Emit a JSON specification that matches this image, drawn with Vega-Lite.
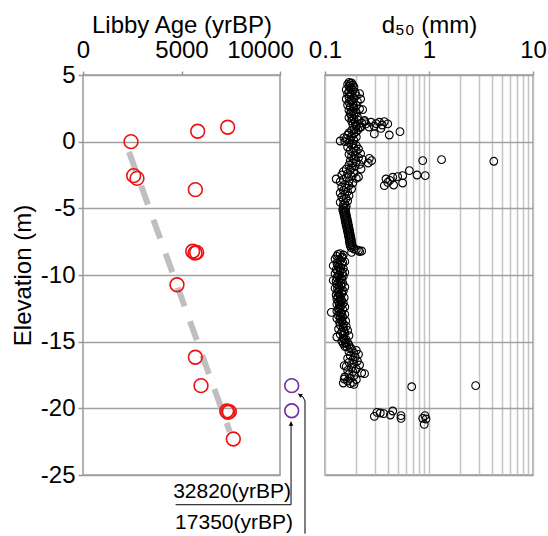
{
"$schema": "https://vega.github.io/schema/vega-lite/v6.json",
"background": "white",
"padding": {"left": 10, "top": 12, "right": 0, "bottom": 0},
"spacing": 45,
"bounds": "flush",
"config": {
  "font": "Liberation Sans",
  "view": {"stroke": "#999999", "strokeWidth": 1.5},
  "axis": {"labelFont": "Liberation Sans", "titleFont": "Liberation Sans", "labelFontSize": 24, "titleFontSize": 24, "titleFontWeight": "normal", "labelColor": "#000000", "titleColor": "#000000", "domain": false, "gridColor": "#a0a0a0", "gridWidth": 1.5, "tickColor": "#999999", "tickWidth": 1.5, "labelFlush": false, "labelOverlap": false}
},
"datasets": {
  "reg": [{"age": 2335, "elev": -0.77}, {"age": 7450, "elev": -21.75}],
  "red": [
    {"age": 2437, "elev": 0.0}, {"age": 5821, "elev": 0.78}, {"age": 7343, "elev": 1.08},
    {"age": 2572, "elev": -2.55}, {"age": 2741, "elev": -2.75}, {"age": 5703, "elev": -3.6},
    {"age": 5567, "elev": -8.22}, {"age": 5685, "elev": -8.35}, {"age": 5770, "elev": -8.3},
    {"age": 4772, "elev": -10.73}, {"age": 5703, "elev": -16.17}, {"age": 5990, "elev": -18.3},
    {"age": 7293, "elev": -20.2}, {"age": 7428, "elev": -20.25}, {"age": 7350, "elev": -20.3},
    {"age": 7630, "elev": -22.3}
  ],
  "purple": [{"age": 10594, "elev": -18.3}, {"age": 10594, "elev": -20.18}],
  "arrows": [
    {"id": 1, "o": 1, "age": 4700, "elev": -27.23}, {"id": 1, "o": 2, "age": 10560, "elev": -27.23}, {"id": 1, "o": 3, "age": 10560, "elev": -21.0},
    {"id": 2, "o": 1, "age": 11269, "elev": -29.4}, {"id": 2, "o": 2, "age": 11269, "elev": -19.45}, {"id": 2, "o": 3, "age": 11168, "elev": -19.15}, {"id": 2, "o": 4, "age": 10939, "elev": -18.92}
  ],
  "heads": [{"age": 10560, "elev": -21.15, "ang": 0}, {"age": 11010, "elev": -19.0, "ang": 304}],
  "notes": [{"age": 10560, "elev": -26.25, "t": "32820(yrBP)"}, {"age": 10660, "elev": -28.6, "t": "17350(yrBP)"}],
  "d50": [
    {"d":0.17,"e":4.45},{"d":0.18,"e":4.4},{"d":0.165,"e":4.3},{"d":0.185,"e":4.25},{"d":0.17,"e":4.15},{"d":0.19,"e":4.1},{"d":0.175,"e":4.0},{"d":0.16,"e":3.9},{"d":0.185,"e":3.85},{"d":0.17,"e":3.75},{"d":0.195,"e":3.7},{"d":0.165,"e":3.6},{"d":0.215,"e":3.6},{"d":0.18,"e":3.5},{"d":0.2,"e":3.45},{"d":0.17,"e":3.35},{"d":0.19,"e":3.25},{"d":0.16,"e":3.2},{"d":0.22,"e":3.2},{"d":0.18,"e":3.1},{"d":0.205,"e":3.0},{"d":0.17,"e":2.95},{"d":0.185,"e":2.85},{"d":0.165,"e":2.75},{"d":0.2,"e":2.7},{"d":0.175,"e":2.6},{"d":0.19,"e":2.5},{"d":0.215,"e":2.45},{"d":0.23,"e":2.4},{"d":0.17,"e":2.35},{"d":0.185,"e":2.3},{"d":0.2,"e":2.2},{"d":0.175,"e":2.1},{"d":0.19,"e":2.05},{"d":0.18,"e":1.95},{"d":0.205,"e":1.85},{"d":0.17,"e":1.8},{"d":0.19,"e":1.7},{"d":0.21,"e":1.6},{"d":0.24,"e":1.6},{"d":0.18,"e":1.55},{"d":0.195,"e":1.45},{"d":0.225,"e":1.4},{"d":0.185,"e":1.3},{"d":0.2,"e":1.25},
    {"d":0.175,"e":4.35},{"d":0.18,"e":4.05},{"d":0.175,"e":3.55},{"d":0.18,"e":3.05},{"d":0.19,"e":2.65},{"d":0.178,"e":2.25},{"d":0.182,"e":1.75},
    {"d":0.2,"e":1.15},{"d":0.215,"e":1.05},{"d":0.19,"e":0.95},{"d":0.18,"e":0.85},{"d":0.2,"e":0.75},{"d":0.17,"e":0.65},{"d":0.19,"e":0.6},{"d":0.165,"e":0.5},{"d":0.18,"e":0.4},{"d":0.2,"e":0.35},{"d":0.152,"e":0.3},{"d":0.16,"e":0.25},{"d":0.175,"e":0.15},{"d":0.19,"e":0.1},{"d":0.155,"e":0.0},{"d":0.14,"e":0.05},{"d":0.17,"e":-0.05},{"d":0.185,"e":-0.15},
    {"d":0.18,"e":-0.25},{"d":0.2,"e":-0.3},{"d":0.165,"e":-0.4},{"d":0.19,"e":-0.5},{"d":0.21,"e":-0.55},{"d":0.175,"e":-0.65},{"d":0.2,"e":-0.7},{"d":0.185,"e":-0.8},{"d":0.22,"e":-0.9},{"d":0.17,"e":-0.95},{"d":0.195,"e":-1.05},{"d":0.18,"e":-1.1},{"d":0.21,"e":-1.2},{"d":0.19,"e":-1.3},{"d":0.23,"e":-1.35},{"d":0.175,"e":-1.45},{"d":0.2,"e":-1.5},{"d":0.185,"e":-1.6},{"d":0.215,"e":-1.7},{"d":0.17,"e":-1.75},{"d":0.195,"e":-1.85},{"d":0.18,"e":-1.95},
    {"d":0.16,"e":-2.05},{"d":0.175,"e":-2.15},{"d":0.15,"e":-2.25},{"d":0.19,"e":-2.35},{"d":0.165,"e":-2.4},{"d":0.145,"e":-2.5},{"d":0.18,"e":-2.6},{"d":0.21,"e":-2.65},{"d":0.16,"e":-2.7},{"d":0.2,"e":-2.75},{"d":0.15,"e":-2.85},{"d":0.128,"e":-2.8},{"d":0.17,"e":-2.95},{"d":0.14,"e":-3.0},{"d":0.185,"e":-3.1},{"d":0.155,"e":-3.2},{"d":0.17,"e":-3.3},{"d":0.145,"e":-3.4},{"d":0.16,"e":-3.5},{"d":0.18,"e":-3.55},
    {"d":0.15,"e":-3.65},{"d":0.165,"e":-3.75},{"d":0.14,"e":-3.85},{"d":0.155,"e":-3.95},{"d":0.17,"e":-4.05},{"d":0.145,"e":-4.15},{"d":0.16,"e":-4.25},{"d":0.15,"e":-4.35},{"d":0.165,"e":-4.45},{"d":0.14,"e":-4.55},{"d":0.155,"e":-4.65},{"d":0.15,"e":-4.75},{"d":0.16,"e":-4.85},
    {"d":0.15,"e":-4.95},{"d":0.158,"e":-5.0},{"d":0.148,"e":-5.1},{"d":0.156,"e":-5.15},{"d":0.15,"e":-5.25},{"d":0.158,"e":-5.3},{"d":0.152,"e":-5.4},{"d":0.16,"e":-5.45},{"d":0.153,"e":-5.55},{"d":0.161,"e":-5.6},{"d":0.155,"e":-5.7},{"d":0.163,"e":-5.75},{"d":0.156,"e":-5.85},{"d":0.164,"e":-5.9},{"d":0.157,"e":-6.0},{"d":0.166,"e":-6.05},{"d":0.159,"e":-6.15},{"d":0.167,"e":-6.2},{"d":0.16,"e":-6.3},{"d":0.169,"e":-6.35},{"d":0.162,"e":-6.45},{"d":0.17,"e":-6.5},{"d":0.164,"e":-6.6},{"d":0.172,"e":-6.65},{"d":0.165,"e":-6.75},{"d":0.173,"e":-6.8},{"d":0.167,"e":-6.9},{"d":0.175,"e":-6.95},{"d":0.168,"e":-7.05},{"d":0.176,"e":-7.1},{"d":0.17,"e":-7.2},{"d":0.178,"e":-7.25},{"d":0.171,"e":-7.35},{"d":0.179,"e":-7.4},{"d":0.172,"e":-7.5},{"d":0.18,"e":-7.55},{"d":0.173,"e":-7.65},{"d":0.182,"e":-7.7},{"d":0.175,"e":-7.8},{"d":0.184,"e":-7.85},{"d":0.178,"e":-7.95},
    {"d":0.19,"e":-8.05},{"d":0.2,"e":-8.1},{"d":0.21,"e":-8.15},{"d":0.225,"e":-8.2},{"d":0.215,"e":-8.25},{"d":0.18,"e":-8.3},
    {"d":0.14,"e":-8.4},{"d":0.15,"e":-8.5},{"d":0.13,"e":-8.6},{"d":0.145,"e":-8.7},{"d":0.125,"e":-8.8},{"d":0.14,"e":-8.9},{"d":0.155,"e":-9.0},{"d":0.13,"e":-9.1},{"d":0.145,"e":-9.2},{"d":0.12,"e":-9.3},{"d":0.135,"e":-9.4},{"d":0.15,"e":-9.5},{"d":0.128,"e":-9.6},{"d":0.14,"e":-9.7},{"d":0.155,"e":-9.8},{"d":0.125,"e":-9.9},{"d":0.138,"e":-10.0},{"d":0.15,"e":-10.1},{"d":0.13,"e":-10.2},{"d":0.145,"e":-10.3},{"d":0.12,"e":-10.4},{"d":0.135,"e":-10.5},{"d":0.148,"e":-10.6},{"d":0.13,"e":-10.7},{"d":0.142,"e":-10.8},{"d":0.155,"e":-10.9},{"d":0.125,"e":-11.0},{"d":0.138,"e":-11.1},{"d":0.15,"e":-11.2},{"d":0.132,"e":-11.3},{"d":0.145,"e":-11.4},{"d":0.128,"e":-11.5},{"d":0.14,"e":-11.6},{"d":0.153,"e":-11.7},{"d":0.13,"e":-11.8},{"d":0.145,"e":-11.9},{"d":0.135,"e":-12.0},{"d":0.15,"e":-12.1},{"d":0.13,"e":-12.2},{"d":0.143,"e":-12.3},{"d":0.155,"e":-12.4},{"d":0.135,"e":-12.5},{"d":0.148,"e":-12.6},{"d":0.13,"e":-12.7},{"d":0.115,"e":-12.8},{"d":0.142,"e":-12.85},{"d":0.155,"e":-12.95},{"d":0.135,"e":-13.05},{"d":0.148,"e":-13.15},{"d":0.13,"e":-13.25},{"d":0.145,"e":-13.35},{"d":0.158,"e":-13.45},{"d":0.138,"e":-13.55},{"d":0.15,"e":-13.65},
    {"d":0.133,"e":-8.45},{"d":0.147,"e":-8.65},{"d":0.135,"e":-8.85},{"d":0.148,"e":-9.05},{"d":0.133,"e":-9.25},{"d":0.142,"e":-9.45},{"d":0.132,"e":-9.65},{"d":0.147,"e":-9.85},{"d":0.133,"e":-10.05},{"d":0.14,"e":-10.25},{"d":0.128,"e":-10.45},{"d":0.143,"e":-10.65},{"d":0.136,"e":-10.85},{"d":0.132,"e":-11.05},{"d":0.145,"e":-11.25},{"d":0.137,"e":-11.45},{"d":0.133,"e":-11.65},{"d":0.14,"e":-11.85},{"d":0.142,"e":-12.05},{"d":0.137,"e":-12.25},{"d":0.14,"e":-12.45},{"d":0.138,"e":-12.65},{"d":0.145,"e":-12.9},{"d":0.14,"e":-13.1},{"d":0.14,"e":-13.3},{"d":0.145,"e":-13.5},
    {"d":0.14,"e":-13.75},{"d":0.16,"e":-13.85},{"d":0.15,"e":-13.95},{"d":0.135,"e":-14.05},{"d":0.165,"e":-14.15},{"d":0.145,"e":-14.25},{"d":0.155,"e":-14.35},{"d":0.14,"e":-14.45},{"d":0.17,"e":-14.55},{"d":0.13,"e":-14.65},{"d":0.15,"e":-14.75},{"d":0.16,"e":-14.85},{"d":0.145,"e":-14.95},{"d":0.165,"e":-15.05},{"d":0.15,"e":-15.15},{"d":0.17,"e":-15.25},{"d":0.155,"e":-15.35},{"d":0.175,"e":-15.45},
    {"d":0.15,"e":-13.9},{"d":0.152,"e":-14.2},{"d":0.15,"e":-14.5},{"d":0.153,"e":-14.8},{"d":0.157,"e":-15.1},{"d":0.162,"e":-15.4},
    {"d":0.18,"e":-15.55},{"d":0.2,"e":-15.65},{"d":0.17,"e":-15.75},{"d":0.19,"e":-15.85},{"d":0.21,"e":-15.95},{"d":0.175,"e":-16.05},{"d":0.195,"e":-16.15},{"d":0.165,"e":-16.25},{"d":0.185,"e":-16.35},{"d":0.205,"e":-16.45},{"d":0.17,"e":-16.55},{"d":0.19,"e":-16.65},{"d":0.215,"e":-16.75},{"d":0.16,"e":-16.85},{"d":0.18,"e":-16.95},{"d":0.2,"e":-17.05},{"d":0.165,"e":-17.15},{"d":0.185,"e":-17.25},{"d":0.225,"e":-17.35},{"d":0.17,"e":-17.45},{"d":0.19,"e":-17.55},{"d":0.155,"e":-17.65},{"d":0.175,"e":-17.75},{"d":0.2,"e":-17.85},{"d":0.165,"e":-17.95},{"d":0.185,"e":-18.05},{"d":0.15,"e":-18.1},{"d":0.175,"e":-18.15},{"d":0.24,"e":-17.4},{"d":0.153,"e":-16.8},{"d":0.153,"e":-17.8},{"d":0.19,"e":-18.2},
    {"d":0.248,"e":1.33},{"d":0.277,"e":1.46},{"d":0.298,"e":1.16},{"d":0.333,"e":1.46},{"d":0.372,"e":1.5},{"d":0.401,"e":1.33},{"d":0.298,"e":0.58},{"d":0.415,"e":0.5},{"d":0.526,"e":0.75},{"d":0.345,"e":1.0},{"d":0.265,"e":1.1},{"d":0.222,"e":1.1},{"d":0.207,"e":0.88},{"d":0.31,"e":1.35},{"d":0.355,"e":1.25},{"d":0.24,"e":1.5},
    {"d":0.267,"e":-1.25},{"d":0.281,"e":-1.42},{"d":0.26,"e":-1.6},{"d":0.222,"e":-2.05},{"d":0.87,"e":-1.42},{"d":1.32,"e":-1.35},{"d":4.2,"e":-1.47},{"d":0.647,"e":-2.17},{"d":0.767,"e":-2.5},{"d":0.92,"e":-2.55},{"d":0.558,"e":-2.55},{"d":0.5,"e":-2.62},{"d":0.448,"e":-2.67},{"d":0.386,"e":-2.8},{"d":0.372,"e":-3.3},{"d":0.457,"e":-3.25},{"d":0.558,"e":-3.1},{"d":0.401,"e":-3.05},{"d":0.42,"e":-2.9},
    {"d":0.682,"e":-18.38},{"d":2.81,"e":-18.3},{"d":0.298,"e":-20.6},{"d":0.316,"e":-20.3},{"d":0.34,"e":-20.35},{"d":0.367,"e":-20.4},{"d":0.425,"e":-20.5},{"d":0.448,"e":-20.2},{"d":0.538,"e":-20.55},{"d":0.538,"e":-20.75},{"d":0.87,"e":-20.75},{"d":0.935,"e":-20.8},{"d":0.9,"e":-21.2},{"d":0.915,"e":-20.55}
  ]
},
"hconcat": [
  {
    "width": 197,
    "height": 400,
    "layer": [
      {
        "data": {"name": "reg"},
        "mark": {"type": "line", "color": "#bfbfbf", "strokeWidth": 6, "strokeDash": [20, 16]},
        "encoding": {
          "x": {"field": "age", "type": "quantitative", "scale": {"domain": [0, 10000], "nice": false, "zero": false},
                "axis": {"orient": "top", "values": [0, 5000, 10000], "title": "Libby Age (yrBP)", "grid": false, "tickSize": 4, "labelPadding": 9, "titlePadding": 1,
                         "labelExpr": "'' + datum.value",
                         "labelOffset": {"condition": {"test": "datum.value == 10000", "value": -20}, "value": 0}}},
          "y": {"field": "elev", "type": "quantitative", "scale": {"domain": [-25, 5], "nice": false, "zero": false},
                "axis": {"values": [-25, -20, -15, -10, -5, 0, 5], "title": "Elevation (m)", "grid": true, "tickSize": 5, "labelPadding": 3, "titlePadding": 5, "labelExpr": "'' + datum.value"}}
        }
      },
      {
        "data": {"name": "red"},
        "mark": {"type": "point", "shape": "circle", "filled": false, "color": "#ee1111", "size": 190, "strokeWidth": 1.6, "opacity": 1},
        "encoding": {"x": {"field": "age", "type": "quantitative"}, "y": {"field": "elev", "type": "quantitative"}}
      },
      {
        "data": {"name": "purple"},
        "mark": {"type": "point", "shape": "circle", "filled": false, "color": "#7030a0", "size": 190, "strokeWidth": 1.6, "opacity": 1},
        "encoding": {"x": {"field": "age", "type": "quantitative"}, "y": {"field": "elev", "type": "quantitative"}}
      },
      {
        "data": {"name": "arrows"},
        "mark": {"type": "line", "color": "#000000", "strokeWidth": 1},
        "encoding": {"x": {"field": "age", "type": "quantitative"}, "y": {"field": "elev", "type": "quantitative"}, "detail": {"field": "id"}, "order": {"field": "o"}}
      },
      {
        "data": {"name": "heads"},
        "mark": {"type": "point", "shape": "triangle-up", "filled": true, "color": "#000000", "size": 22, "opacity": 1},
        "encoding": {"x": {"field": "age", "type": "quantitative"}, "y": {"field": "elev", "type": "quantitative"}, "angle": {"field": "ang", "type": "quantitative", "scale": null}}
      },
      {
        "data": {"name": "notes"},
        "mark": {"type": "text", "align": "right", "baseline": "middle", "fontSize": 21, "font": "Liberation Sans", "color": "#000000"},
        "encoding": {"x": {"field": "age", "type": "quantitative"}, "y": {"field": "elev", "type": "quantitative"}, "text": {"field": "t"}}
      }
    ]
  },
  {
    "width": 208,
    "height": 400,
    "data": {"name": "d50"},
    "mark": {"type": "point", "shape": "circle", "filled": false, "color": "#000000", "size": 60, "strokeWidth": 1.1, "opacity": 1},
    "encoding": {
      "x": {"field": "d", "type": "quantitative", "scale": {"type": "log", "domain": [0.1, 10], "nice": false},
            "axis": {"orient": "top", "title": "d₅₀ (mm)", "values": [0.1, 0.2, 0.3, 0.4, 0.5, 0.6, 0.7, 0.8, 0.9, 1, 2, 3, 4, 5, 6, 7, 8, 9, 10],
                     "format": "~g", "grid": true, "gridColor": "#c4c4c4", "gridWidth": 1.5,
                     "labelExpr": "(datum.value == 0.1 || datum.value == 1 || datum.value == 10) ? datum.label : ''",
                     "tickSize": {"condition": {"test": "datum.value == 0.1 || datum.value == 1 || datum.value == 10", "value": 4}, "value": 0},
                     "labelPadding": 9, "titlePadding": 1}},
      "y": {"field": "e", "type": "quantitative", "scale": {"domain": [-25, 5], "nice": false, "zero": false},
            "axis": {"values": [-25, -20, -15, -10, -5, 0, 5], "title": null, "grid": true, "labels": false, "ticks": false}}
    }
  }
]
}
